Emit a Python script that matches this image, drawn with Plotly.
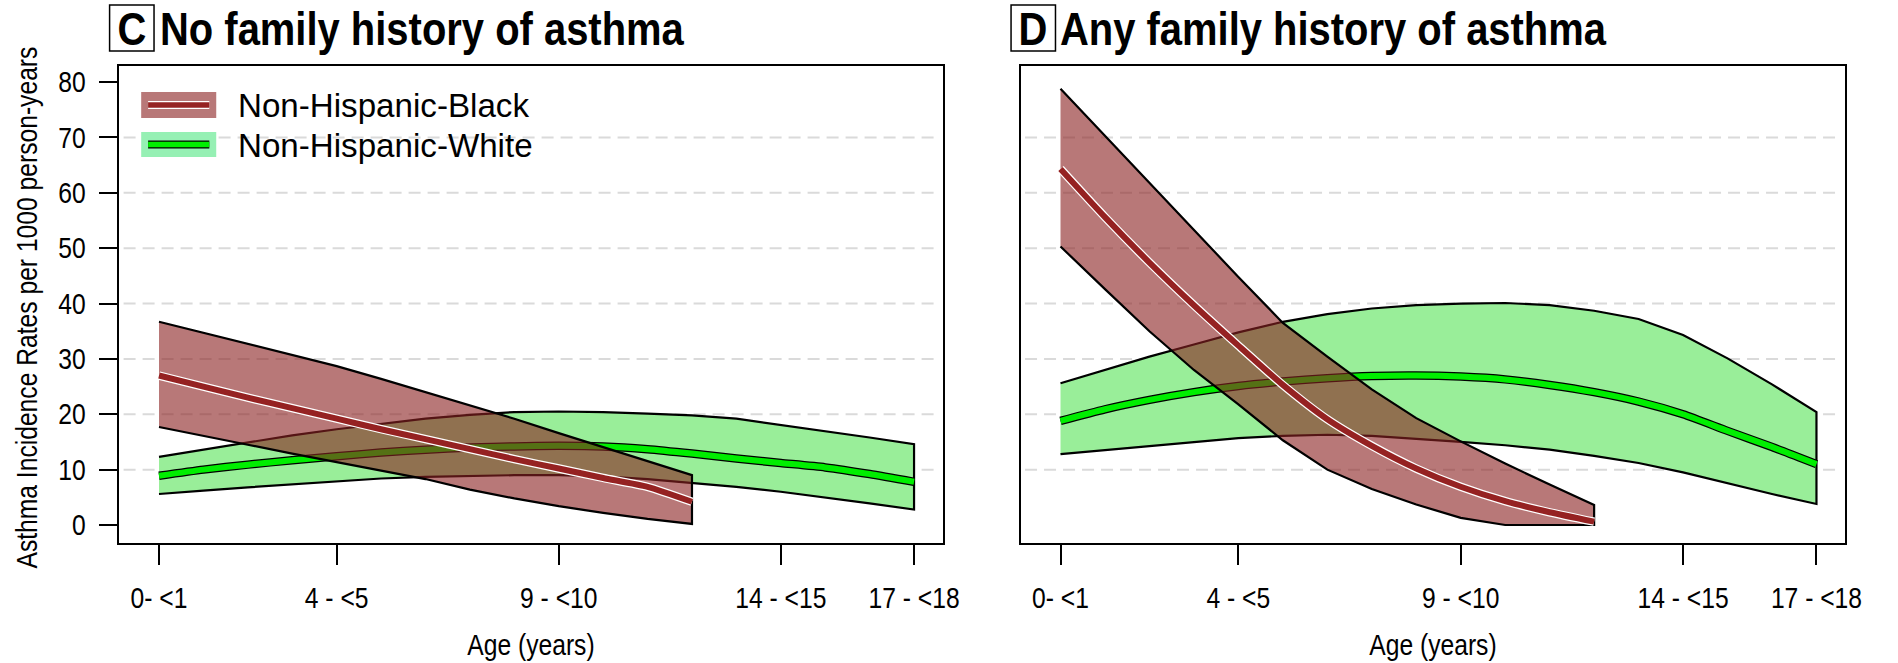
import plotly.graph_objects as go

W, H = 1898, 663
FONT = "Liberation Sans, Arial, Helvetica, sans-serif"

# ---- axis ticks -------------------------------------------------------------
AGE_TICKS = [0, 4, 9, 14, 17]
AGE_LABELS = ["0- <1", "4 - <5", "9 - <10", "14 - <15", "17 - <18"]
RATE_TICKS = [0, 10, 20, 30, 40, 50, 60, 70, 80]
GRID_LEVELS = [10, 20, 30, 40, 50, 60, 70]

# ---- ages (years) -----------------------------------------------------------
AGES_BLACK = list(range(0, 13))
AGES_WHITE = list(range(0, 18))

# ---- C: no family history of asthma -----------------------------------------
C_BLACK_FIT = [27.0, 25.0, 23.0, 21.1, 19.2, 17.3, 15.5, 13.7, 11.9, 10.2, 8.5, 6.9, 4.2]
C_BLACK_LO = [17.7, 16.1, 14.5, 12.9, 11.4, 9.8, 8.3, 6.4, 4.8, 3.4, 2.2, 1.1, 0.2]
C_BLACK_HI = [36.7, 34.7, 32.7, 30.7, 28.7, 26.4, 24.0, 21.6, 19.2, 16.6, 14.1, 11.5, 9.0]

C_WHITE_FIT = [8.9, 10.0, 10.9, 11.7, 12.4, 13.1, 13.6, 14.0, 14.2, 14.3, 14.2, 13.7,
               12.9, 12.0, 11.2, 10.4, 9.2, 7.8]
C_WHITE_LO = [5.6, 6.2, 6.8, 7.4, 7.9, 8.4, 8.7, 8.9, 9.0, 9.0, 8.8, 8.3,
              7.6, 6.9, 6.0, 5.0, 3.9, 2.8]
C_WHITE_HI = [12.3, 13.6, 15.0, 16.2, 17.3, 18.3, 19.2, 19.9, 20.4, 20.5, 20.4, 20.1,
              19.8, 19.2, 18.1, 16.9, 15.8, 14.6]

# ---- D: any family history of asthma ----------------------------------------
D_BLACK_FIT = [64.3, 55.6, 47.4, 39.7, 32.4, 25.3, 19.1, 14.3, 10.2, 6.9, 4.3, 2.3, 0.6]
D_BLACK_LO = [50.3, 42.6, 35.0, 28.0, 21.8, 15.3, 10.0, 6.5, 3.7, 1.3, 0.0, 0.0, 0.0]
D_BLACK_HI = [78.8, 70.3, 61.8, 53.3, 44.8, 36.5, 30.4, 24.5, 19.3, 15.1, 11.1, 7.3, 3.6]

D_WHITE_FIT = [18.8, 20.9, 22.6, 24.0, 25.1, 25.9, 26.5, 26.9, 27.0, 26.8, 26.3, 25.3,
               24.0, 22.3, 20.0, 17.0, 14.1, 11.0]
D_WHITE_LO = [12.8, 13.6, 14.3, 15.0, 15.7, 16.1, 16.3, 16.1, 15.6, 15.0, 14.4, 13.6,
              12.5, 11.2, 9.5, 7.5, 5.6, 3.8]
D_WHITE_HI = [25.6, 28.0, 30.4, 32.6, 34.8, 36.7, 38.1, 39.1, 39.7, 40.0, 40.1, 39.7,
              38.7, 37.2, 34.3, 30.1, 25.4, 20.4]

GROUPS = ["Non-Hispanic-Black", "Non-Hispanic-White"]

# ---- colours ----------------------------------------------------------------
BLACK_BAND = "rgba(139,35,35,0.61)"
BLACK_LINE = "#952222"
WHITE_BAND = "#99ee99"
WHITE_LINE = "#00ee00"
LEGEND_WHITE_FILL = "rgb(150,240,180)"

# text is set in a horizontally condensed face (narrow sans look)
CONDENSE = 0.85
LEGEND_CONDENSE = 0.975
TICK_SIZE = 29
TITLE_SIZE = 47
LEGEND_SIZE = 34
AXIS_TITLE_SIZE = 29


def px_x(p):
    return p / W


def px_y(p):
    return 1 - p / H


fig = go.Figure()


def add_band(ages, lo, hi, fill, xa, ya):
    fig.add_trace(go.Scatter(
        x=ages + ages[::-1], y=hi + lo[::-1], mode="lines", fill="toself",
        fillcolor=fill, line=dict(color="black", width=2.2),
        xaxis=xa, yaxis=ya, hoverinfo="skip", showlegend=False))


def add_fit(ages, fit, color, edge, xa, ya):
    fig.add_trace(go.Scatter(
        x=ages, y=fit, mode="lines",
        line=dict(color=edge, width=8.5, shape="spline", smoothing=0.6),
        xaxis=xa, yaxis=ya, hoverinfo="skip", showlegend=False))
    fig.add_trace(go.Scatter(
        x=ages, y=fit, mode="lines",
        line=dict(color=color, width=6, shape="spline", smoothing=0.6),
        xaxis=xa, yaxis=ya, hoverinfo="skip", showlegend=False))


panels = [
    ("x", "y", C_WHITE_LO, C_WHITE_HI, C_WHITE_FIT, C_BLACK_LO, C_BLACK_HI, C_BLACK_FIT),
    ("x2", "y2", D_WHITE_LO, D_WHITE_HI, D_WHITE_FIT, D_BLACK_LO, D_BLACK_HI, D_BLACK_FIT),
]
for xa, ya, wlo, whi, wfit, blo, bhi, bfit in panels:
    add_band(AGES_WHITE, wlo, whi, WHITE_BAND, xa, ya)
    add_fit(AGES_WHITE, wfit, WHITE_LINE, "black", xa, ya)
    add_band(AGES_BLACK, blo, bhi, BLACK_BAND, xa, ya)
    add_fit(AGES_BLACK, bfit, BLACK_LINE, "white", xa, ya)

# ---- axes -------------------------------------------------------------------
X_RANGE = [-0.89, 17.65]
Y_RANGE = [-3.25, 82.9]
Y_DOMAIN = [px_y(543), px_y(66)]

xcommon = dict(range=X_RANGE, tickvals=AGE_TICKS, ticktext=AGE_LABELS,
               ticks="outside", ticklen=20, tickwidth=2, tickcolor="black",
               showline=True, linewidth=2, linecolor="black", mirror=True,
               showgrid=False, zeroline=False, ticklabelstandoff=8,
               tickfont=dict(family=FONT, size=TICK_SIZE, color="black"))
ycommon = dict(range=Y_RANGE, domain=Y_DOMAIN, showline=True, linewidth=2,
               linecolor="black", mirror=True, showgrid=False, zeroline=False)

fig.update_layout(
    width=W, height=H, margin=dict(l=0, r=0, t=0, b=0),
    paper_bgcolor="white", plot_bgcolor="white", showlegend=False,
    xaxis=dict(domain=[px_x(121), px_x(955)], anchor="y", **xcommon),
    xaxis2=dict(domain=[px_x(1034), px_x(1869)], anchor="y2", **xcommon),
    yaxis=dict(anchor="x", tickvals=RATE_TICKS, ticks="outside", ticklen=18,
               tickwidth=2, tickcolor="black", ticklabelstandoff=8,
               tickfont=dict(family=FONT, size=TICK_SIZE, color="black"), **ycommon),
    yaxis2=dict(anchor="x2", showticklabels=False, ticks="", **ycommon),
)

shapes = []
for xd, yr in (("x domain", "y"), ("x2 domain", "y2")):
    for lv in GRID_LEVELS:
        shapes.append(dict(type="line", xref=xd, yref=yr, x0=0.005, x1=0.99,
                           y0=lv, y1=lv, layer="below",
                           line=dict(color="#dadada", width=2, dash="12px,7px")))

annotations = []

# panel letters in boxes and panel titles
for letter, title, bx0, tx in (("C", "No family history of asthma", 111, 160),
                               ("D", "Any family history of asthma", 1024, 1072)):
    shapes.append(dict(type="rect", xref="paper", yref="paper",
                       x0=px_x(bx0), x1=px_x(bx0 + 45), y0=px_y(51), y1=px_y(5),
                       line=dict(color="black", width=1.5)))
    annotations.append(dict(text=f"<b>{letter}</b>", xref="paper", yref="paper",
                            x=px_x(bx0 + 22.5), y=px_y(29), xanchor="center",
                            yanchor="middle", showarrow=False,
                            font=dict(family=FONT, size=TITLE_SIZE, color="black")))
    annotations.append(dict(text=f"<b>{title}</b>", xref="paper", yref="paper",
                            x=px_x(tx), y=px_y(29), xanchor="left", yanchor="middle",
                            align="left", showarrow=False,
                            font=dict(family=FONT, size=TITLE_SIZE, color="black")))

# legend
legend_rows = [
    (GROUPS[0], BLACK_BAND, BLACK_LINE, "white", 92, 118),
    (GROUPS[1], LEGEND_WHITE_FILL, WHITE_LINE, "black", 132, 157),
]
for name, fill, col, edge, y0, y1 in legend_rows:
    yc = (y0 + y1) / 2
    shapes.append(dict(type="rect", xref="paper", yref="paper",
                       x0=px_x(143), x1=px_x(219), y0=px_y(y1), y1=px_y(y0),
                       fillcolor=fill, line=dict(width=0)))
    shapes.append(dict(type="line", xref="paper", yref="paper",
                       x0=px_x(150), x1=px_x(212), y0=px_y(yc), y1=px_y(yc),
                       line=dict(color=edge, width=8)))
    shapes.append(dict(type="line", xref="paper", yref="paper",
                       x0=px_x(150), x1=px_x(212), y0=px_y(yc), y1=px_y(yc),
                       line=dict(color=col, width=5.5)))
    annotations.append(dict(text=name, xref="paper", yref="paper",
                            x=px_x(239), y=px_y(yc), xanchor="left", yanchor="middle",
                            align="left", showarrow=False,
                            font=dict(family=FONT, size=LEGEND_SIZE, color="black")))

# axis titles
for cx in (538, 1451):
    annotations.append(dict(text="Age (years)", xref="paper", yref="paper",
                            x=px_x(cx), y=px_y(645), xanchor="center",
                            yanchor="middle", showarrow=False,
                            font=dict(family=FONT, size=AXIS_TITLE_SIZE, color="black")))
annotations.append(dict(text="Asthma Incidence Rates per 1000 person-years",
                        xref="paper", yref="paper", x=px_x(27), y=px_y(308),
                        xanchor="center", yanchor="middle", textangle=-90,
                        showarrow=False,
                        font=dict(family=FONT, size=AXIS_TITLE_SIZE, color="black")))

fig.update_layout(shapes=shapes, annotations=annotations)

# narrow every text run along its own baseline, keeping its anchor point fixed
condense_js = """
var gd = document.getElementById('{plot_id}');
var legendNames = %s;
gd.querySelectorAll('text').forEach(function (t) {
  var bb = t.getBBox();
  if (!bb.width) { return; }
  var s = legendNames.indexOf(t.textContent) >= 0 ? %s : %s;
  var anchor = t.getAttribute('text-anchor') || 'start';
  var ax = bb.x;
  if (anchor === 'middle') { ax = bb.x + bb.width / 2; }
  else if (anchor === 'end') { ax = bb.x + bb.width; }
  var tr = t.getAttribute('transform') || '';
  t.setAttribute('transform', tr + ' translate(' + ax + ',0) scale(' + s + ',1) translate(' + (-ax) + ',0)');
});
""" % ("[" + ",".join('"%s"' % g for g in GROUPS) + "]", LEGEND_CONDENSE, CONDENSE)

fig.write_html("out.html", post_script=condense_js)
